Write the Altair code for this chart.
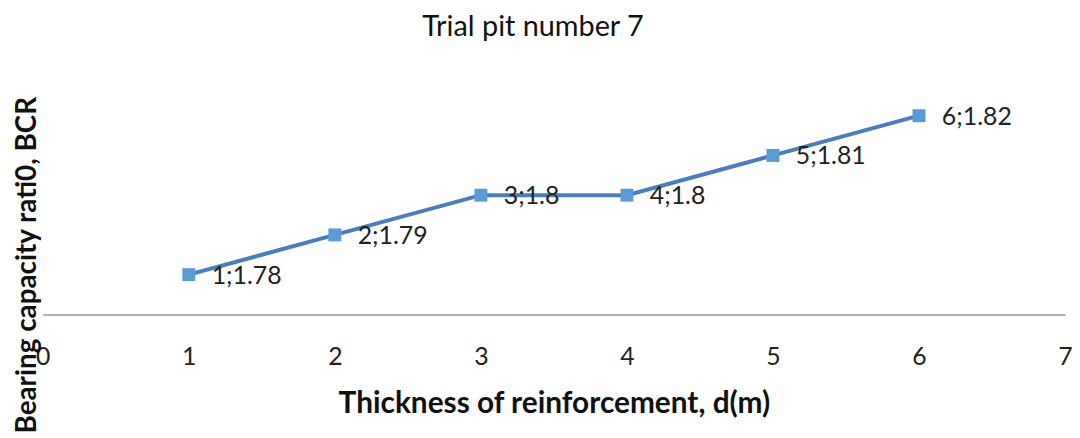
import altair as alt
import pandas as pd

thickness = [1, 2, 3, 4, 5, 6]
bcr = [1.78, 1.79, 1.80, 1.80, 1.81, 1.82]
labels = [f"{t};{v:g}" for t, v in zip(thickness, bcr)]

df = pd.DataFrame({"d": thickness, "bcr": bcr, "label": labels})

FONT = "Lato"

x = alt.X(
    "d:Q",
    scale=alt.Scale(domain=[0, 7], nice=False),
    axis=alt.Axis(
        title="Thickness of reinforcement, d(m)",
        values=[0, 1, 2, 3, 4, 5, 6, 7],
        format="d",
        grid=False,
        ticks=False,
        domainColor="#9a9a9a",
        domainWidth=1.5,
        labelFont=FONT,
        labelFontSize=25,
        labelColor="#222222",
        labelPadding=30,
        labelFlush=False,
        titleFont=FONT,
        titleFontSize=30,
        titleFontWeight="bold",
        titleColor="#111111",
        titleBaseline="alphabetic",
        titleY=99,
    ),
)
y = alt.Y(
    "bcr:Q",
    scale=alt.Scale(domain=[1.77, 1.83], nice=False, zero=False),
    axis=alt.Axis(
        title="Bearing capacity rati0, BCR",
        labels=False,
        ticks=False,
        domain=False,
        grid=False,
        titleFont=FONT,
        titleFontSize=28,
        titleFontWeight="bold",
        titleColor="#111111",
        titleBaseline="alphabetic",
        titleX=-7,
        titleY=190,
        titleAlign="center",
        titleLimit=1000,
    ),
)

base = alt.Chart(df).encode(x=x, y=y)

line = base.mark_line(color="#4a7ebb", strokeWidth=4)
points = base.mark_point(shape="square", filled=True, size=169, color="#5b9bd5", opacity=1)
text = base.mark_text(
    align="left", baseline="middle", dx=23, dy=1, font=FONT, fontSize=25, color="#222222"
).encode(text="label:N")

chart = (
    alt.layer(line, points, text)
    .properties(
        width=1029,
        height=240,
        autosize=alt.AutoSizeParams(type="none"),
        padding={"left": 35, "top": 67, "right": 7, "bottom": 123},
        title=alt.TitleParams(
            "Trial pit number 7",
            font=FONT,
            fontSize=29,
            fontWeight="normal",
            color="#111111",
            baseline="alphabetic",
            offset=11,
            dx=-21,
        ),
    )
    .configure_view(stroke=None)
)

chart.save("out.html", embed_options={"renderer": "svg", "actions": False})
